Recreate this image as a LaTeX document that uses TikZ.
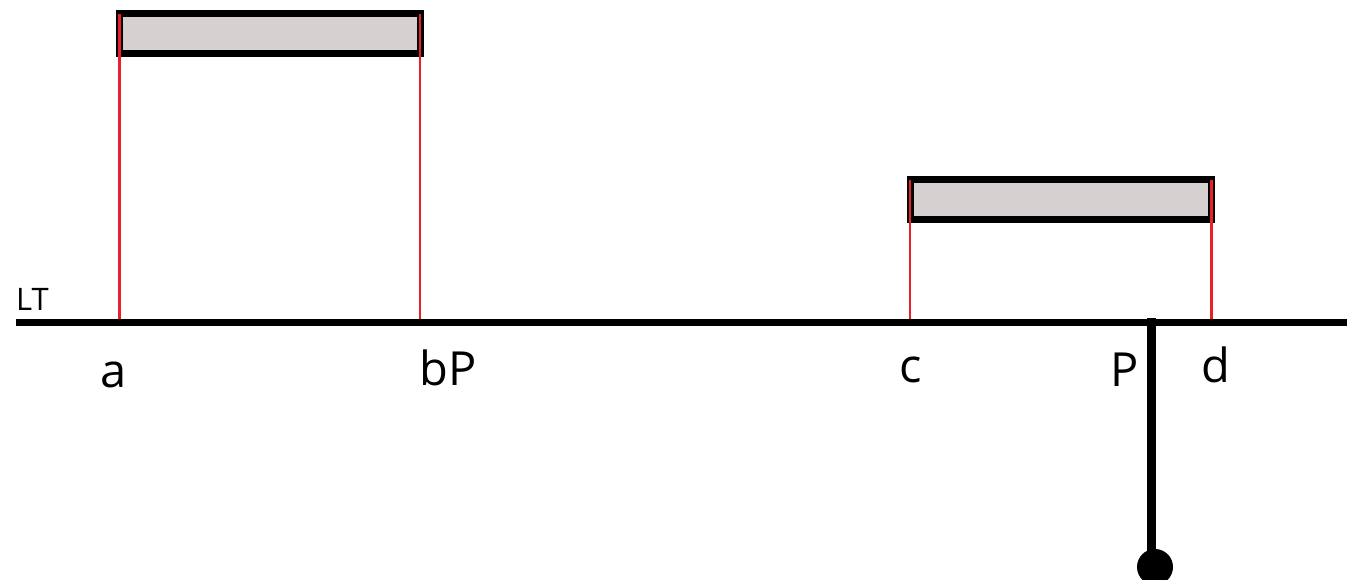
\documentclass[tikz,border=0pt]{standalone}
\usepackage{fontspec}
\setmainfont{Open Sans}
\definecolor{boxfill}{HTML}{D6D0D0}
\definecolor{guide}{HTML}{E8202A}
\tikzset{
  beam/.style={draw=black, line width=7pt, fill=boxfill},
  guideline/.style={draw=guide, line width=2.5pt},
  ground/.style={draw=black, line width=7pt},
  biglabel/.style={anchor=base, inner sep=0pt, font=\fontsize{47}{50}\selectfont},
  smalllabel/.style={anchor=base west, inner sep=0pt, font=\fontsize{31}{34}\selectfont},
}
\begin{document}
\begin{tikzpicture}[x=1pt, y=-1pt]
\useasboundingbox (0,0) rectangle (1347,580);
% coordinates
\coordinate (gL) at (16,322);
\coordinate (gR) at (1347,322);
% beams
\draw[beam] (119.5,14) rectangle (420.5,54);
\draw[beam] (910.5,180) rectangle (1211.5,220);
% guide lines
\draw[guideline] (119.5,14) -- (119.5,322);
\draw[guideline] (420,14) -- (420,322);
\draw[guideline] (910,180) -- (910,322);
\draw[guideline] (1211.5,180) -- (1211.5,322);
% ground line
\draw[ground] (gL) -- (gR);
% pendulum
\coordinate (pTop) at (1151.5,318);
\coordinate (pBot) at (1155,567);
\draw[black, line width=8.5pt] (pTop) -- (1151.5,560);
\fill[black] (pBot) circle (18);
% labels
\node[smalllabel] (LT) at (16,310) {LT};
\node[biglabel] (a) at (113.5,387) {a};
\node[biglabel] (bP) at (448,385) {bP};
\node[biglabel] (c) at (911,382) {c};
\node[biglabel] (P) at (1125,386) {P};
\node[biglabel] (d) at (1216,382) {d};
\end{tikzpicture}
\end{document}
